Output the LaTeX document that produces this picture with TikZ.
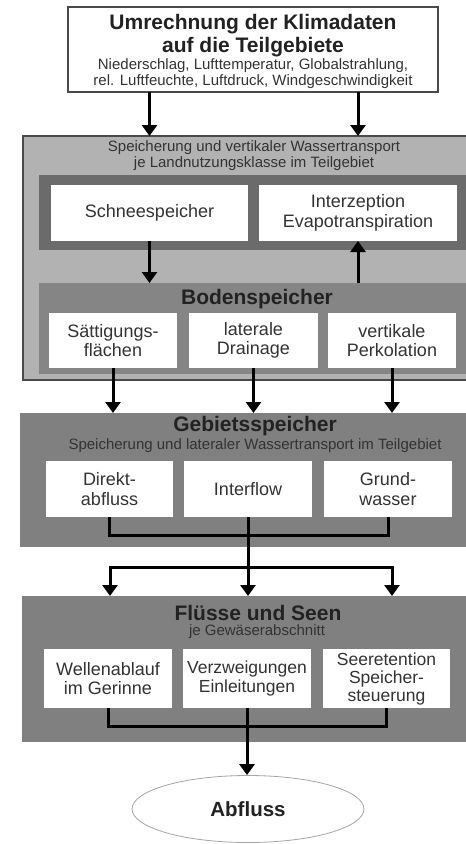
\documentclass[tikz,border=0pt]{standalone}
\usepackage{fontspec}
\setmainfont{Liberation Sans}
\usetikzlibrary{arrows.meta,shapes.geometric}

\definecolor{panellight}{HTML}{B2B2B2}
\definecolor{paneldark}{HTML}{6B6B6B}
\definecolor{panelmid}{HTML}{858585}
\definecolor{panelgray}{HTML}{808080}
\definecolor{edgegray}{HTML}{4A4A4A}
\definecolor{txtgray}{HTML}{333333}
\definecolor{headgray}{HTML}{222222}

\tikzset{
  panel/.style={inner sep=0pt, outer sep=0pt},
  wbox/.style={fill=white, inner sep=0pt, outer sep=0pt, align=center,
    text=txtgray, font=\fontsize{18}{19.5}\selectfont, minimum height=56pt},
  headtxt/.style={inner sep=0pt, align=center, text=headgray,
    font=\fontsize{21}{23}\selectfont\bfseries},
  subtxt/.style={inner sep=0pt, align=center, text=txtgray,
    font=\fontsize{15}{16}\selectfont},
  flow/.style={line width=3pt, black},
  arr/.style={flow, -{Triangle[length=11pt,width=15pt]}},
}

\begin{document}
\begin{tikzpicture}[x=1pt,y=-1pt]
\useasboundingbox (0,0) rectangle (466,844);
\clip (0,0) rectangle (466,844);

% climate data box
\node[panel, draw=edgegray, line width=1.5pt, fill=white,
      minimum width=370pt, minimum height=85pt] (klima) at (253,49.5) {};
\node[headtxt] (klimatitle) at (253,36) {Umrechnung der Klimadaten\\auf die Teilgebiete};
\node[subtxt] (klimasub) at (253,74) {Niederschlag, Lufttemperatur, Globalstrahlung,\\rel. Luftfeuchte, Luftdruck, Windgeschwindigkeit};

% vertical storage and transport per land use class
\node[panel, draw=edgegray, line width=1.5pt, fill=panellight,
      minimum width=460pt, minimum height=244pt] (outer) at (253,258) {};
\node[subtxt] (outertxt) at (254,156) {Speicherung und vertikaler Wassertransport\\je Landnutzungsklasse im Teilgebiet};

\node[panel, fill=paneldark, minimum width=428pt, minimum height=75pt] (upper) at (253,212.5) {};
\node[wbox, minimum width=197pt] (schnee) at (149.5,213) {Schneespeicher};
\node[wbox, minimum width=198pt] (interz) at (358,213) {Interzeption\\Evapotranspiration};

\node[panel, fill=panelmid, minimum width=428pt, minimum height=91pt] (boden) at (253,328.5) {};
\node[headtxt] (bodentxt) at (257,299) {Bodenspeicher};
\node[wbox, minimum width=128pt, minimum height=55pt] (saett) at (113,340.5) {Sättigungs-\\flächen};
\node[wbox, minimum width=129pt, minimum height=55pt] (drain) at (253.5,340.5) {laterale\\Drainage};
\node[wbox, minimum width=128pt, minimum height=55pt] (perk) at (392,340.5) {vertikale\\Perkolation};

% subcatchment storage
\node[panel, fill=panelgray, minimum width=466pt, minimum height=134pt] (gebiet) at (253,480) {};
\node[headtxt] (gebiettxt) at (255,426) {Gebietsspeicher};
\node[subtxt] (gebietsub) at (255,446) {Speicherung und lateraler Wassertransport im Teilgebiet};
\node[wbox, minimum width=127pt] (direkt) at (109.5,489) {Direkt-\\abfluss};
\node[wbox, minimum width=128pt] (inter) at (248,489) {Interflow};
\node[wbox, minimum width=128pt] (grund) at (388,489) {Grund-\\wasser};

% rivers and lakes
\node[panel, fill=panelgray, minimum width=462pt, minimum height=146pt] (fluss) at (253,669) {};
\node[headtxt] (flusstxt) at (258,613) {Flüsse und Seen};
\node[subtxt] (flusssub) at (257,632) {je Gewäserabschnitt};
\node[wbox, minimum width=128pt, minimum height=59pt] (welle) at (108,678.5) {Wellenablauf\\im Gerinne};
\node[wbox, minimum width=128pt, minimum height=59pt, font=\fontsize{17.5}{19}\selectfont] (verz) at (247,678.5) {Verzweigungen\\Einleitungen};
\node[wbox, minimum width=127pt, minimum height=59pt, font=\fontsize{17.5}{18}\selectfont] (seer) at (386.5,678.5) {Seeretention\\Speicher-\\steuerung};

% outflow
\node[ellipse, draw=gray!70, line width=0.8pt, fill=white, inner sep=0pt,
      minimum width=232pt, minimum height=67pt, text=headgray,
      font=\fontsize{20.5}{22}\selectfont\bfseries] (abfluss) at (248,809) {Abfluss};

% connectors
\draw[arr] (klima.south -| schnee.north) -- (outer.north -| schnee.north);
\draw[arr] (klima.south -| interz.north) -- (outer.north -| interz.north);
\draw[arr] (schnee.south) -- (schnee.south |- boden.north);
\draw[arr] (interz.south |- boden.north) -- (interz.south);
\draw[arr] (saett.south) -- (saett.south |- gebiet.north);
\draw[arr] (drain.south) -- (drain.south |- gebiet.north);
\draw[arr] (perk.south) -- (perk.south |- gebiet.north);

\draw[flow] (direkt.south) -- ++(0,18) -| (grund.south);
\draw[flow] (inter.south) -- ++(0,50) coordinate (split);
\coordinate (sl) at (110,567);
\coordinate (sr) at (392,567);
\draw[arr] (split) -| (sl |- fluss.north);
\draw[arr] (split) -| (sr |- fluss.north);
\draw[arr] (split) -- (split |- fluss.north);

\draw[flow] (welle.south) -- ++(0,18) -| (seer.south);
\draw[arr] (verz.south) -- (verz.south |- abfluss.north);
\end{tikzpicture}
\end{document}
